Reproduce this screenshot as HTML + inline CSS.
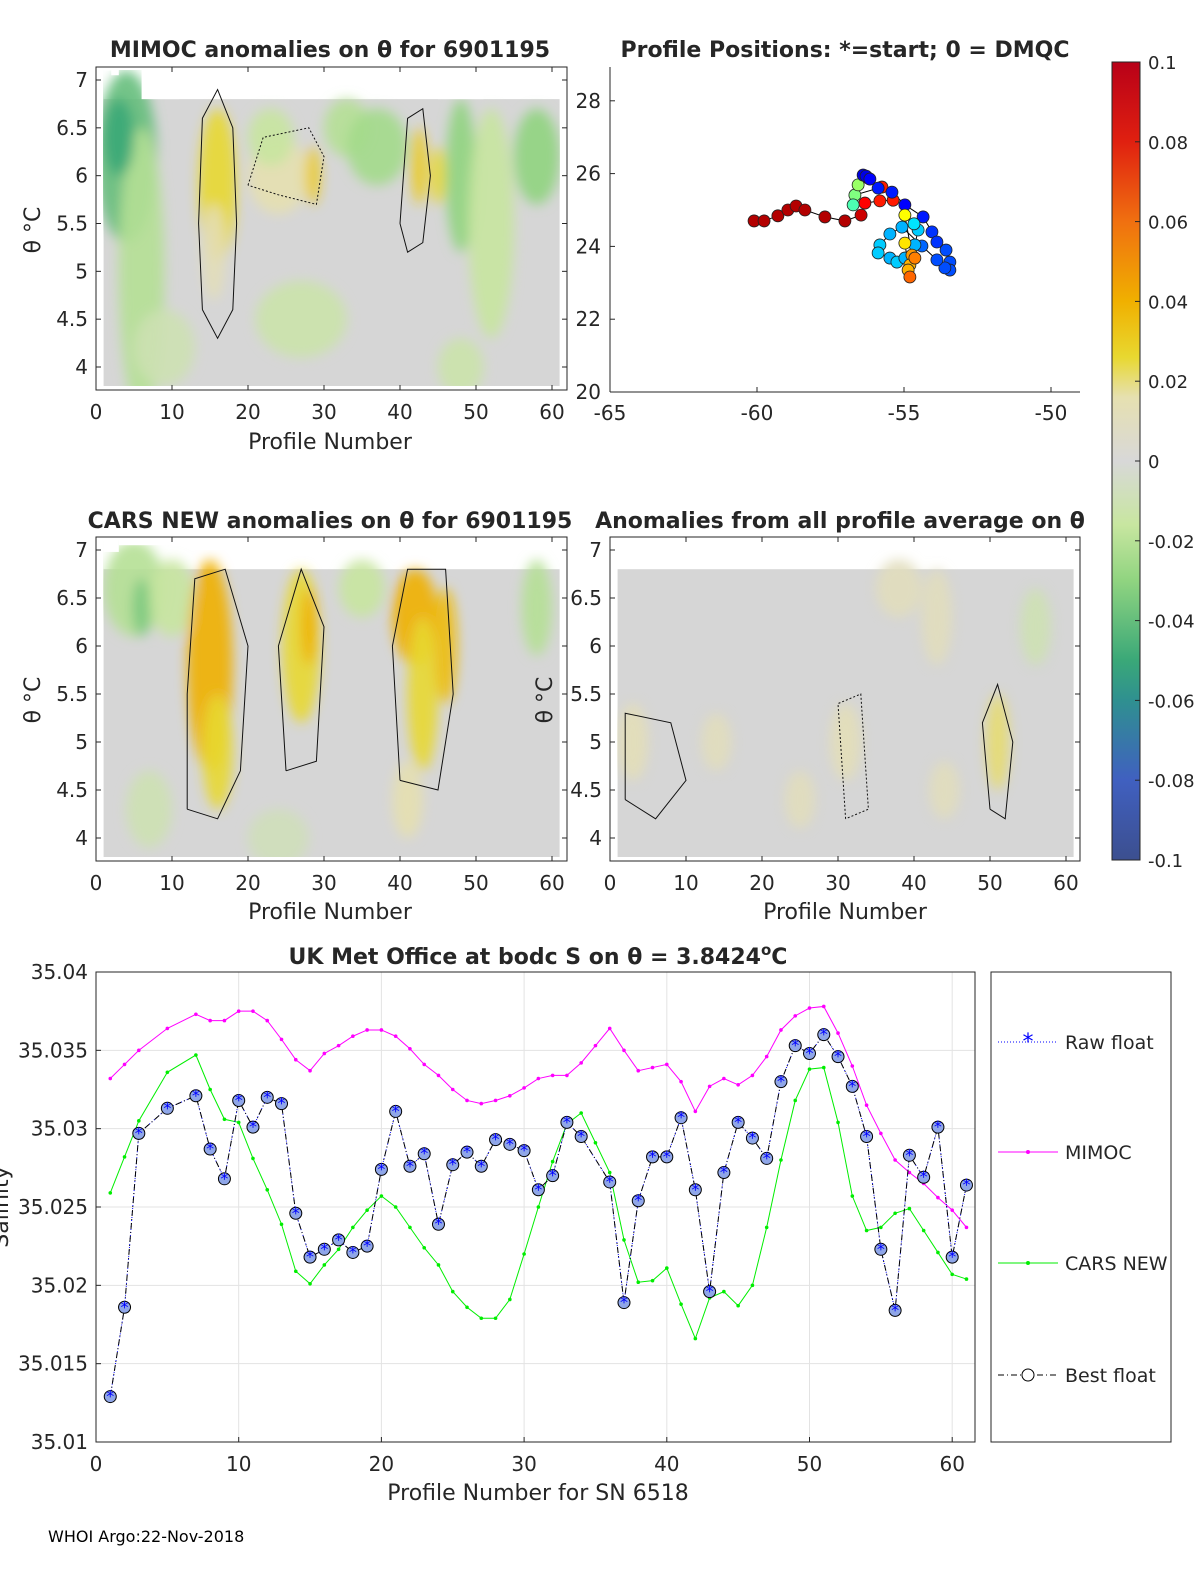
<!DOCTYPE html>
<html style="overflow:hidden"><head><meta charset="utf-8"><style>
html,body{margin:0;padding:0;background:#fff;width:1200px;height:1575px;overflow:hidden;font-family:"DejaVu Sans","Liberation Sans",sans-serif;position:relative}
svg{display:block;position:absolute;left:0;top:0;overflow:hidden}
svg text{font-family:"DejaVu Sans","Liberation Sans",sans-serif}
</style></head><body>
<svg id="fig" width="1200" height="1575" viewBox="0 0 1200 1575" xmlns="http://www.w3.org/2000/svg">
<defs>
<linearGradient id="cb" x1="0" y1="0" x2="0" y2="1">
<stop offset="0" stop-color="#b80018"/><stop offset="0.1" stop-color="#e02010"/><stop offset="0.2" stop-color="#f07010"/><stop offset="0.3" stop-color="#f0b000"/><stop offset="0.37" stop-color="#e8d830"/><stop offset="0.42" stop-color="#e6e0b0"/><stop offset="0.5" stop-color="#d8d8d8"/><stop offset="0.58" stop-color="#c8e6a0"/><stop offset="0.65" stop-color="#90d480"/><stop offset="0.75" stop-color="#3aa878"/><stop offset="0.8" stop-color="#2f9090"/><stop offset="0.9" stop-color="#4060c0"/><stop offset="1" stop-color="#3c4f8f"/>
</linearGradient>
<filter id="blur" x="-50%" y="-50%" width="200%" height="200%"><feGaussianBlur stdDeviation="6"/></filter>
<clipPath id="c1"><rect x="103" y="70" width="457" height="316"/></clipPath>
<clipPath id="c3"><rect x="103" y="540" width="457" height="317"/></clipPath>
<clipPath id="c4"><rect x="617" y="540" width="457" height="317"/></clipPath>
<clipPath id="pageclip"><rect x="0" y="0" width="1200" height="1575"/></clipPath>
</defs>
<g id="root" clip-path="url(#pageclip)"></g>
</svg>
<script>
// ---- bottom chart data ----
const profiles = [1,2,3,5,7,8,9,10,11,12,13,14,15,16,17,18,19,20,21,22,23,24,25,26,27,28,29,30,31,32,33,34,35,36,37,38,39,40,41,42,43,44,45,46,47,48,49,50,51,52,53,54,55,56,57,58,59,60,61];
const bestFloat = [35.0129,35.0186,35.0297,35.0313,35.0321,35.0287,35.0268,35.0318,35.0301,35.0320,35.0316,35.0246,35.0218,35.0223,35.0229,35.0221,35.0225,35.0274,35.0311,35.0276,35.0284,35.0239,35.0277,35.0285,35.0276,35.0293,35.0290,35.0286,35.0261,35.0270,35.0304,35.0295,null,35.0266,35.0189,35.0254,35.0282,35.0282,35.0307,35.0261,35.0196,35.0272,35.0304,35.0294,35.0281,35.0330,35.0353,35.0348,35.0360,35.0346,35.0327,35.0295,35.0223,35.0184,35.0283,35.0269,35.0301,35.0218,35.0264];
const mimoc = [35.0332,35.0341,35.0350,35.0364,35.0373,35.0369,35.0369,35.0375,35.0375,35.0369,35.0357,35.0344,35.0337,35.0348,35.0353,35.0359,35.0363,35.0363,35.0359,35.0351,35.0341,35.0334,35.0325,35.0318,35.0316,35.0318,35.0321,35.0326,35.0332,35.0334,35.0334,35.0342,35.0353,35.0364,35.0350,35.0337,35.0339,35.0341,35.0330,35.0311,35.0327,35.0332,35.0328,35.0334,35.0346,35.0363,35.0372,35.0377,35.0378,35.0361,35.0340,35.0315,35.0297,35.0280,35.0272,35.0265,35.0256,35.0248,35.0237];
const carsNew = [35.0259,35.0282,35.0305,35.0336,35.0347,35.0325,35.0306,35.0304,35.0281,35.0261,35.0239,35.0209,35.0201,35.0213,35.0223,35.0237,35.0248,35.0257,35.0250,35.0237,35.0224,35.0213,35.0196,35.0186,35.0179,35.0179,35.0191,35.0220,35.0250,35.0279,35.0303,35.0310,35.0291,35.0272,35.0229,35.0202,35.0203,35.0211,35.0188,35.0166,35.0192,35.0196,35.0187,35.0200,35.0237,35.0280,35.0318,35.0338,35.0339,35.0304,35.0257,35.0235,35.0237,35.0246,35.0249,35.0235,35.0221,35.0207,35.0204];
const xTicksBottom = [0,10,20,30,40,50,60];
const yTicksBottom = [35.01,35.015,35.02,35.025,35.03,35.035,35.04];
// ---- position data ----
const lons = [-60.10,-59.76,-59.29,-58.95,-58.67,-58.37,-57.69,-57.01,-56.46,-56.33,-55.82,-55.37,-55.75,-56.67,-56.73,-56.56,-56.39,-56.22,-56.29,-56.16,-55.88,-55.41,-54.97,-54.35,-54.05,-53.88,-53.57,-53.44,-53.44,-53.61,-53.88,-54.39,-55.07,-55.48,-55.82,-55.88,-55.48,-55.24,-54.97,-54.63,-54.52,-54.66,-54.97,-54.73,-54.80,-54.63,-54.86,-54.80,-54.97];
const lats = [24.70,24.70,24.84,25.00,25.11,25.00,24.81,24.70,24.86,25.19,25.25,25.27,25.63,25.41,25.14,25.69,25.96,25.88,25.93,25.85,25.60,25.49,25.14,24.81,24.40,24.12,23.90,23.57,23.35,23.41,23.63,24.01,24.53,24.34,24.04,23.82,23.68,23.57,23.68,24.04,24.45,24.62,24.86,23.76,23.49,23.68,23.35,23.16,24.09];
const posVals = [0.09,0.09,0.09,0.09,0.09,0.09,0.09,0.09,0.085,0.075,0.07,0.07,0.07,-0.0,-0.01,0.005,-0.08,-0.075,-0.08,-0.075,-0.07,-0.07,-0.075,-0.07,-0.065,-0.065,-0.06,-0.06,-0.06,-0.06,-0.06,-0.055,-0.04,-0.04,-0.035,-0.035,-0.04,-0.035,-0.04,-0.04,-0.035,-0.03,0.025,0.045,0.04,0.05,0.04,0.055,0.03];
const lonTicks = [-65,-60,-55,-50];
const latTicks = [20,22,24,26,28];
const cbTicks = [0.1,0.08,0.06,0.04,0.02,0,-0.02,-0.04,-0.06,-0.08,-0.1];
const thetaTicks = [4,4.5,5,5.5,6,6.5,7];
const profTicks = [0,10,20,30,40,50,60];

const NS='http://www.w3.org/2000/svg';
const root=document.getElementById('root');
function mk(tag,attrs,parent){const e=document.createElementNS(NS,tag);for(const k in attrs)e.setAttribute(k,attrs[k]);(parent||root).appendChild(e);return e;}
function txt(x,y,s,size,anchor,weight,parent){const t=mk('text',{x:x,y:y,'font-size':size,'text-anchor':anchor||'middle','font-weight':weight||'normal',fill:'#262626'},parent);t.textContent=s;return t;}

function cmap(v){
  const stops=[[0.1,[184,0,24]],[0.08,[224,32,16]],[0.06,[240,112,16]],[0.04,[240,176,0]],[0.025,[232,216,48]],[0.015,[230,224,176]],[0,[216,216,216]],[-0.015,[200,230,160]],[-0.03,[144,212,128]],[-0.05,[58,168,120]],[-0.06,[47,144,144]],[-0.07,[40,100,200]],[-0.08,[64,96,192]],[-0.1,[60,79,143]]];
  if(v>=stops[0][0])return 'rgb('+stops[0][1]+')';
  for(let i=0;i<stops.length-1;i++){const a=stops[i],b=stops[i+1];if(v<=a[0]&&v>=b[0]){const t=(a[0]-v)/(a[0]-b[0]);return 'rgb('+a[1].map((c,j)=>Math.round(c+(b[1][j]-c)*t)).join(',')+')';}}
  return 'rgb('+stops[stops.length-1][1]+')';
}
function jet(v){
  const t=Math.max(0,Math.min(1,(v+0.1)/0.2));
  const f=x=>Math.round(255*Math.max(0,Math.min(1,1.5-Math.abs(4*t-x))));
  return 'rgb('+f(3)+','+f(2)+','+f(1)+')';
}

// ---------- theta panels ----------
function thetaPanel(x0,y0,x1,y1,y7,y4,clip,name,blobs,topEdge){
  const g=mk('g',{});
  
  
  const sx=v=>x0+(v)*7.6, sy=v=>y4-(v-4)*(y4-y7)/3;
  const fg=mk('g',{'clip-path':'url(#'+clip+')'},g);
  mk('rect',{x:sx(1),y:sy(6.8),width:sx(61)-sx(1),height:sy(3.8)-sy(6.8)+20,fill:'#d6d6d6'},fg);
  const bg=mk('g',{filter:'url(#blur)'},fg);
  blobs.forEach(b=>{mk('ellipse',{cx:sx(b[0]),cy:sy(b[1]),rx:b[2]*7.6,ry:b[3]*(y4-y7)/3,fill:cmap(b[4]),opacity:0.9},bg);});
  topEdge.forEach(t=>{mk('rect',{x:sx(t[0]),y:y0,width:(t[1]-t[0])*7.6,height:sy(t[2])-y0,fill:'#fff'},fg);});
  mk('rect',{x:x0,y:y0,width:x1-x0,height:y1-y0,fill:'none',stroke:'#262626','stroke-width':1},g);
  profTicks.forEach(v=>{const x=sx(v);mk('line',{x1:x,x2:x,y1:y1,y2:y1-5,stroke:'#262626'},g);mk('line',{x1:x,x2:x,y1:y0,y2:y0+5,stroke:'#262626'},g);txt(x,y1+29,String(v),20,'middle','normal',g);});
  thetaTicks.forEach(v=>{const y=sy(v);mk('line',{x1:x0,x2:x0+5,y1:y,y2:y,stroke:'#262626'},g);mk('line',{x1:x1,x2:x1-5,y1:y,y2:y,stroke:'#262626'},g);txt(x0-8,y+7,String(v),20,'end','normal',g);});
  return {sx,sy};
}
const mimocBlobs=[[4,6.2,4,0.9,-0.04],[6,5,3,1.5,-0.02],[3,6.4,2,0.4,-0.05],[16,5.9,2.5,0.8,0.025],[15.5,5.2,1.5,0.5,0.012],[24,6,4,0.4,0.015],[28.5,6,1,0.3,0.03],[33,6.5,3,0.3,-0.02],[37,6.3,4,0.4,-0.025],[42.5,6.1,1,0.4,0.03],[45,6,1,0.3,0.025],[48,6,2,0.8,-0.03],[52,5.5,3,1.2,-0.015],[58,6.2,3,0.5,-0.03],[9,4.2,4,0.4,-0.01],[27,4.5,6,0.4,-0.012],[48,4,3,0.3,-0.012],[23,6.4,3,0.3,-0.015]];
const carsBlobs=[[5,6.6,4,0.5,-0.02],[6,6.4,1.2,0.3,-0.035],[10,6.5,3,0.4,-0.015],[15,5.8,3,1.1,0.04],[16,4.9,2,0.6,0.025],[27,6,2.5,0.8,0.025],[28,6.2,1,0.4,0.04],[42,6.3,3,0.5,0.04],[43,5.5,2,0.8,0.025],[46,6,1.5,0.6,0.035],[35,6.6,3,0.3,-0.015],[58,6.4,2,0.5,-0.02],[7,4.3,3,0.4,-0.01],[41,4.4,2,0.4,0.015],[24,4,4,0.3,-0.008]];
const avgBlobs=[[3,5,2,0.4,0.012],[14,5,2,0.3,0.01],[31,5,2,0.4,0.012],[43,6.3,2,0.5,0.01],[51,5,1.5,0.5,0.02],[56,6.2,2,0.4,-0.01],[44,4.5,2,0.3,0.01],[25,4.4,2,0.3,0.01],[38,6.6,3,0.3,0.01]];
const p1=thetaPanel(96,67,567,390,80,367,'c1','mimoc-anomaly-panel',mimocBlobs,[[1,2,7.1],[2,3,7.05],[6,11,6.8],[11,32,7.08],[32,45,7.0],[45,51,6.8],[51,61,7.05]]);
const p3=thetaPanel(96,537,567,861,550,838,'c3','cars-anomaly-panel',carsBlobs,[[1,3,6.98],[3,13,7.05],[13,55,7.0],[55,61,7.0]]);
const p4=thetaPanel(610,537,1080,861,550,838,'c4','all-profile-anomaly-panel',avgBlobs,[[1,61,7.0]]);
function contour(p,pts,dash){const d=pts.map((q,i)=>(i?'L':'M')+p.sx(q[0])+','+p.sy(q[1])).join(' ');const c=mk('path',{d:d,fill:'none',stroke:'#111','stroke-width':1,'stroke-dasharray':dash?'2,2':'none'});}
contour(p1,[[14,4.6],[13.5,5.5],[14,6.6],[16,6.9],[18,6.5],[18.5,5.5],[18,4.6],[16,4.3],[14,4.6]],false);
contour(p1,[[40,5.5],[41,6.6],[43,6.7],[44,6],[43,5.3],[41,5.2],[40,5.5]],false);
contour(p1,[[20,5.9],[22,6.4],[28,6.5],[30,6.2],[29,5.7],[24,5.8],[20,5.9]],true);
contour(p3,[[12,4.3],[12,5.5],[13,6.7],[17,6.8],[20,6],[19,4.7],[16,4.2],[12,4.3]],false);
contour(p3,[[40,4.6],[39,6],[41,6.8],[46,6.8],[47,5.5],[45,4.5],[40,4.6]],false);
contour(p3,[[25,4.7],[24,6],[27,6.8],[30,6.2],[29,4.8],[25,4.7]],false);
contour(p4,[[2,4.4],[2,5.3],[8,5.2],[10,4.6],[6,4.2],[2,4.4]],false);
contour(p4,[[50,4.3],[49,5.2],[51,5.6],[53,5],[52,4.2],[50,4.3]],false);
contour(p4,[[31,4.2],[30,5.4],[33,5.5],[34,4.3],[31,4.2]],true);

function lbl(x,y,s,size,w,name,rot){const t=txt(x,y,s,size,'middle',w);if(rot)t.setAttribute('transform','rotate(-90 '+x+' '+y+')');return t;}
lbl(330,57,'MIMOC anomalies on θ  for 6901195',22,'bold','mimoc-title');
lbl(845,57,'Profile Positions: *=start; 0 = DMQC',22,'bold','positions-title');
lbl(330,528,'CARS NEW anomalies on θ for 6901195',22,'bold','cars-title');
lbl(840,528,'Anomalies from all profile average on θ',22,'bold','average-anomaly-title');
lbl(330,449,'Profile Number',22,'normal','mimoc-x-axis-title');
lbl(330,919,'Profile Number',22,'normal','cars-x-axis-title');
lbl(845,919,'Profile Number',22,'normal','average-x-axis-title');
lbl(40,230,'θ °C',22,'normal','mimoc-y-axis-title',true);
lbl(40,700,'θ °C',22,'normal','cars-y-axis-title',true);
lbl(552,700,'θ °C',22,'normal','average-y-axis-title',true);

// ---------- positions panel ----------
(function(){
  const g=mk('g',{});
  
  
  const sx=v=>610+(v+65)*29.4, sy=v=>392-(v-20)*36.4;
  mk('line',{x1:610,x2:1080,y1:392,y2:392,stroke:'#262626'},g);
  mk('line',{x1:610,x2:610,y1:67,y2:392,stroke:'#262626'},g);
  lonTicks.forEach(v=>{const x=sx(v);mk('line',{x1:x,x2:x,y1:392,y2:387,stroke:'#262626'},g);txt(x,420,String(v),20,'middle','normal',g);});
  latTicks.forEach(v=>{const y=sy(v);mk('line',{x1:610,x2:615,y1:y,y2:y,stroke:'#262626'},g);txt(601,y+7,String(v),20,'end','normal',g);});
  const d=lons.map((v,i)=>(i?'L':'M')+sx(v)+','+sy(lats[i])).join(' ');
  const tr=mk('path',{d:d,fill:'none',stroke:'#000','stroke-width':1},g);
  
  
  lons.forEach((v,i)=>{const c=mk('circle',{cx:sx(v),cy:sy(lats[i]),r:6,fill:jet(posVals[i]),stroke:'#222','stroke-width':0.8},g);
    
    });
})();

// ---------- colorbar ----------
(function(){
  const g=mk('g',{});
  
  
  mk('rect',{x:1112,y:62,width:28,height:798,fill:'url(#cb)',stroke:'#262626'},g);
  cbTicks.forEach(v=>{const y=62+(0.1-v)/0.2*798;mk('line',{x1:1135,x2:1140,y1:y,y2:y,stroke:'#262626'},g);txt(1148,y+7,String(v),18,'start','normal',g);});
})();

// ---------- bottom salinity chart ----------
(function(){
  const g=mk('g',{});
  
  
  const sx=v=>96+v*14.27, sy=v=>972+(35.04-v)*15667;
  xTicksBottom.forEach(v=>{const x=sx(v);if(v>0)mk('line',{x1:x,x2:x,y1:972,y2:1442,stroke:'#e3e3e3'},g);txt(x,1471,String(v),20,'middle','normal',g);mk('line',{x1:x,x2:x,y1:1442,y2:1437,stroke:'#262626'},g);});
  yTicksBottom.forEach(v=>{const y=sy(v);mk('line',{x1:96,x2:975,y1:y,y2:y,stroke:'#e3e3e3'},g);txt(88,y+7,v.toFixed(3).replace(/0$/,'').replace(/0$/,''),20,'end','normal',g);mk('line',{x1:96,x2:101,y1:y,y2:y,stroke:'#262626'},g);});
  mk('rect',{x:96,y:972,width:879,height:470,fill:'none',stroke:'#262626'},g);
  function line(vals,color,dash,name){
    const pts=[];profiles.forEach((p,i)=>{if(vals[i]!=null)pts.push([sx(p),sy(vals[i])]);});
    const l=mk('path',{d:pts.map((q,i)=>(i?'L':'M')+q[0]+','+q[1]).join(' '),fill:'none',stroke:color,'stroke-width':1,'stroke-dasharray':dash||'none'},g);
    
    
    return pts;
  }
  line(mimoc,'#ff00ff',null,'mimoc-line').forEach(q=>mk('circle',{cx:q[0],cy:q[1],r:1.8,fill:'#ff00ff'},g));
  line(carsNew,'#00ee00',null,'cars-new-line').forEach(q=>mk('circle',{cx:q[0],cy:q[1],r:1.8,fill:'#00ee00'},g));
  line(bestFloat,'#0000ff','1,2','raw-float-line');
  const bp=line(bestFloat,'#000','6,3,1,3','best-float-line');
  bp.forEach(q=>{const c=mk('circle',{cx:q[0],cy:q[1],r:6,fill:'#8fa6e8',stroke:'#000','stroke-width':1},g);
    
    
    txt(q[0],q[1]+5,'*',16,'middle','normal',g).setAttribute('fill','#0000ff');});
  txt(538,1500,'Profile Number for SN 6518',22,'middle','normal',g);
  const t=txt(538,964,'',22,'middle','bold',g);
  t.innerHTML='UK Met Office at bodc S on θ = 3.8424<tspan dy="-9" font-size="15">o</tspan><tspan dy="9">C</tspan>';
  
  
  const yl=txt(8,1207,'Salinity',22,'middle','normal',g);yl.setAttribute('transform','rotate(-90 8 1207)');
  const lg=mk('g',{},g);
  
  
  mk('rect',{x:991,y:972,width:180,height:470,fill:'#fff',stroke:'#262626'},lg);
  const items=[['Raw float',1042,'#0000ff','1,2'],['MIMOC',1152,'#ff00ff',null],['CARS NEW',1263,'#00ee00',null],['Best float',1375,'#000','6,3,1,3']];
  items.forEach((it,i)=>{const e=mk('g',{},lg);
    
    
    mk('line',{x1:998,x2:1058,y1:it[1],y2:it[1],stroke:it[2],'stroke-dasharray':it[3]||'none'},e);
    if(i==0)txt(1028,it[1]+7,'*',22,'middle','normal',e).setAttribute('fill','#0000ff');
    if(i==1||i==2)mk('circle',{cx:1028,cy:it[1],r:2,fill:it[2]},e);
    if(i==3)mk('circle',{cx:1028,cy:it[1],r:6,fill:'#fff',stroke:'#000'},e);
    txt(1065,it[1]+7,it[0],19,'start','normal',e);});
})();
const foot=txt(48,1542,'WHOI Argo:22-Nov-2018',16,'start');
foot.setAttribute('fill','#000');


</script>
</body></html>
